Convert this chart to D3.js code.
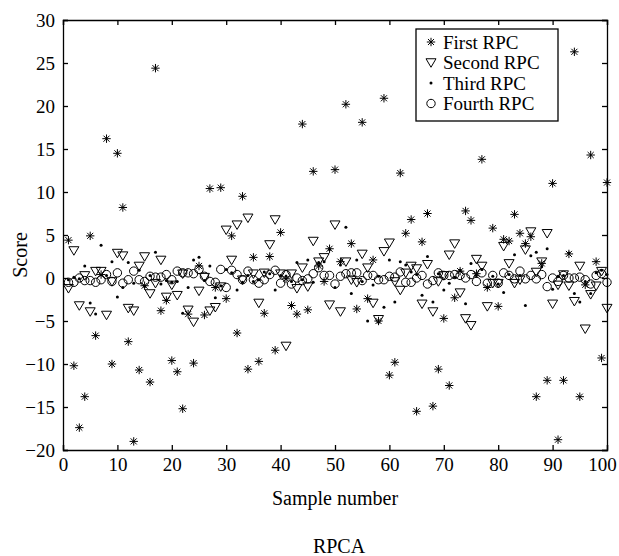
<!DOCTYPE html>
<html>
<head>
<meta charset="utf-8">
<script src="https://cdn.jsdelivr.net/npm/d3@7"></script>
<style>
  body { margin: 0; background: #fff; }
  svg text { font-family: "Liberation Serif", "Times New Roman", serif; fill: #000; }
</style>
</head>
<body>
<div id="chart"></div>
<script>
// sample index 1..100
const samples = d3.range(1, 101)

const firstRPC = [4.4, -10.2, -17.4, -13.8, 4.9, -6.7, 0.4, 16.2, -10.0, 14.5,
  8.2, -7.4, -19.0, -10.7, -0.9, -12.1, 24.4, -3.8, -2.6, -9.6,
  -10.9, -15.2, -4.2, -9.9, 1.4, -4.3, 10.4, -1.1, 10.5, -2.4,
  4.9, -6.4, 9.5, -10.6, 2.4, -9.7, -4.1, 2.5, -8.4, 5.3,
  -0.1, -3.2, -4.2, 17.9, -3.7, 12.4, 1.4, -0.4, 3.4, 12.6,
  1.9, 20.2, 4.0, -3.6, 18.1, -2.4, 2.1, -5.0, 20.9, -11.3,
  -9.8, 12.2, 5.2, 6.8, -15.5, 4.2, 7.5, -14.9, -10.6, -4.7,
  -12.5, -2.3, 0.8, 7.8, 6.7, 0.5, 13.8, -1.1, 5.8, -3.3,
  4.5, 4.3, 7.4, 5.2, 4.0, 4.8, -13.8, 1.7, -11.9, 11.0,
  -18.8, -11.9, 2.8, 26.3, -13.8, -0.8, 14.3, 1.9, -9.3, 11.1]

const secondRPC = [-1.2, 3.2, -3.2, 0.3, -3.9, 0.8, 0.8, -4.3, -0.4, 2.9,
  2.6, -3.5, -3.8, 1.4, 2.5, -1.8, -0.6, 2.1, -2.2, -0.8,
  -2.0, 0.5, -3.7, -5.1, -1.5, 0.1, -3.8, -3.4, -1.0, 5.6,
  2.1, 6.2, -0.2, 7.0, 0.5, -2.9, 0.6, 3.9, 6.8, 0.5,
  -7.9, 0.5, -1.2, 1.2, -1.0, 4.3, 1.9, 2.4, -3.1, 6.2,
  -3.9, 1.9, -0.2, -0.5, 2.8, 1.2, -2.9, -4.8, 3.1, 4.1,
  -0.4, -1.4, 0.6, 1.4, 1.1, -3.0, 1.6, -3.9, -0.4, 0.3,
  2.7, 4.0, -1.7, -4.7, -5.5, 2.2, 1.4, -3.3, -0.6, -0.6,
  3.7, 1.7, -0.6, -0.2, 3.3, 5.4, 0.7, 1.9, 5.2, -3.0,
  -0.8, 0.4, -0.9, -2.7, 1.4, -5.9, -1.9, -0.9, 0.8, -3.5]

const thirdRPC = [-0.2, 0.1, -0.1, 1.4, -2.9, -4.2, 3.8, 0.3, 1.9, -2.2,
  -1.1, 1.8, -0.6, 0.9, -1.0, 0.3, 3.0, -0.7, -0.3, -0.5,
  -0.4, -4.1, -1.1, 2.1, 2.4, -0.3, 1.4, -2.3, -0.9, 1.0,
  0.6, -1.4, -0.5, 0.3, -0.4, -0.2, 0.7, 0.5, -1.4, 0.3,
  0.2, -0.4, 1.8, -0.2, 2.1, -0.5, 1.8, 1.9, 3.3, -1.1,
  1.5, 5.9, -1.8, 2.1, -0.4, -5.0, -0.8, 0.2, -3.4, 2.1,
  -2.8, 1.9, 1.5, 0.7, 0.4, -2.0, 2.5, -2.8, 0.5, -1.4,
  -0.6, 0.1, 0.9, -3.0, 1.7, 0.3, 1.0, -1.1, 0.2, -0.7,
  -1.7, 0.4, 2.7, 0.3, -3.2, 2.6, 3.0, 1.3, 3.4, -1.3,
  0.2, 0.3, 2.9, -1.8, -2.8, -0.4, -1.8, 0.6, 0.9, 0.4]

const fourthRPC = [-0.5, -0.5, 0.0, -0.3, -0.3, -0.5, -0.2, 0.4, -0.4, 0.6,
  -0.6, -0.2, 0.8, -0.2, -0.4, 0.2, 0.1, 0.1, 0.4, -0.2,
  0.8, 0.6, 0.6, 0.5, 1.0, 0.2, -0.4, -0.5, 1.0, -1.1,
  0.9, 0.4, -0.2, 0.8, -0.2, -0.6, -0.2, 0.4, 0.9, -0.6,
  0.4, -0.7, 0.0, -0.3, -0.1, 0.5, 1.2, 0.3, 0.3, -0.7,
  0.2, 0.5, 0.6, 0.6, -0.3, 0.3, 0.3, -0.2, -0.2, 0.2,
  0.1, 0.7, -0.5, -0.5, 0.0, 0.3, -0.7, -0.3, 0.6, 0.3,
  0.3, 0.4, 0.3, 0.0, 0.4, -0.4, 0.6, -0.6, 0.3, -0.6,
  0.6, 0.3, -0.1, 0.8, -0.1, 0.3, -0.1, 0.4, -1.0, 0.0,
  -0.4, 0.3, 0.0, 0.0, 0.1, -0.2, -0.7, 0.3, 0.5, -0.5]

const seriesNames = ['First RPC', 'Second RPC', 'Third RPC', 'Fourth RPC']
const xTicks = d3.range(0, 101, 10)
const yTicks = d3.range(-20, 31, 5)

const width = 619, height = 556
const margin = {top: 20, right: 12, bottom: 106, left: 63}
const pw = width - margin.left - margin.right,
  ph = height - margin.top - margin.bottom
const serif = '"Liberation Serif", "Times New Roman", serif'

const svg = d3.select('#chart').append('svg')
  .attr('width', width)
  .attr('height', height)

const xScale = d3.scaleLinear().domain([0, 100]).range([0, pw])
const yScale = d3.scaleLinear().domain([-20, 30]).range([ph, 0])

const g = svg.append('g')
  .attr('transform', `translate(${margin.left}, ${margin.top})`)

// markers
const asterisk = (sel, r) => sel.append('path')
  .attr('d', `M0,${-r}V${r}M${-r},0H${r}M${-r * 0.72},${-r * 0.72}L${r * 0.72},${r * 0.72}M${-r * 0.72},${r * 0.72}L${r * 0.72},${-r * 0.72}`)
  .attr('stroke', '#000').attr('stroke-width', 1).attr('fill', 'none')
const triangle = (sel, s) => sel.append('path')
  .attr('d', `M${-s},${-s * 0.75}L${s},${-s * 0.75}L0,${s * 0.95}Z`)
  .attr('stroke', '#000').attr('stroke-width', 1).attr('fill', 'none')
const dot = sel => sel.append('circle').attr('r', 1.5).attr('fill', '#000')
const ring = sel => sel.append('circle').attr('r', 4.2)
  .attr('stroke', '#000').attr('stroke-width', 1).attr('fill', 'none')

const drawers = [s => asterisk(s, 4.2), s => triangle(s, 5), dot, ring]
const allSeries = [firstRPC, secondRPC, thirdRPC, fourthRPC]

// draw in reverse so stars are on top
;[3, 2, 1, 0].forEach(k => {
  const pts = g.append('g').selectAll('g').data(samples)
    .enter().append('g')
    .attr('transform', (d, i) => `translate(${xScale(d)}, ${yScale(allSeries[k][i])})`)
  drawers[k](pts)
})

// axes with inward ticks on all sides
const tl = 5
const axisG = g.append('g')
const xAxisG = axisG.append('g')
  .attr('transform', `translate(0, ${ph})`)
  .call(d3.axisBottom(xScale).tickValues(xTicks).tickSize(-tl).tickPadding(8))
axisG.append('g')
  .call(d3.axisTop(xScale).tickValues(xTicks).tickSize(-tl).tickFormat(''))
axisG.append('g')
  .call(d3.axisLeft(yScale).tickValues(yTicks).tickSize(-tl).tickPadding(8)
    .tickFormat(d => d < 0 ? '\u2212' + Math.abs(d) : d))
axisG.append('g')
  .attr('transform', `translate(${pw}, 0)`)
  .call(d3.axisRight(yScale).tickValues(yTicks).tickSize(-tl).tickFormat(''))
axisG.selectAll('.domain').attr('stroke', '#000').attr('stroke-width', 1.3)
axisG.selectAll('.tick line').attr('stroke', '#000').attr('stroke-width', 1.3)
axisG.selectAll('text')
  .style('font-family', serif).style('font-size', '19px').attr('fill', '#000')
// keep the last x label inside the page
xAxisG.selectAll('.tick text').filter(d => d === 100).attr('dx', -5)

// labels
svg.append('text')
  .attr('x', margin.left + pw / 2).attr('y', 505)
  .style('text-anchor', 'middle').style('font-size', '20px').style('font-family', serif)
  .text('Sample number')
svg.append('text')
  .attr('transform', `translate(27, ${margin.top + ph / 2 + 20}) rotate(-90)`)
  .style('text-anchor', 'middle').style('font-size', '20px').style('font-family', serif)
  .text('Score')
svg.append('text')
  .attr('x', 339).attr('y', 553)
  .style('text-anchor', 'middle').style('font-size', '20px').style('font-family', serif)
  .text('RPCA')

// legend
const legG = svg.append('g').attr('transform', 'translate(416, 29)')
legG.append('rect')
  .attr('width', 142).attr('height', 92)
  .attr('fill', '#fff').attr('stroke', '#000').attr('stroke-width', 1.3)
const legRows = legG.selectAll('.leg').data(seriesNames)
  .enter().append('g')
  .attr('transform', (d, i) => `translate(15, ${13 + i * 20.5})`)
legRows.each(function(d, i) { drawers[i](d3.select(this)) })
legRows.append('text')
  .attr('x', 12).attr('y', 6.5)
  .style('font-size', '19px').style('font-family', serif)
  .text(d => d)
</script>
</body>
</html>
